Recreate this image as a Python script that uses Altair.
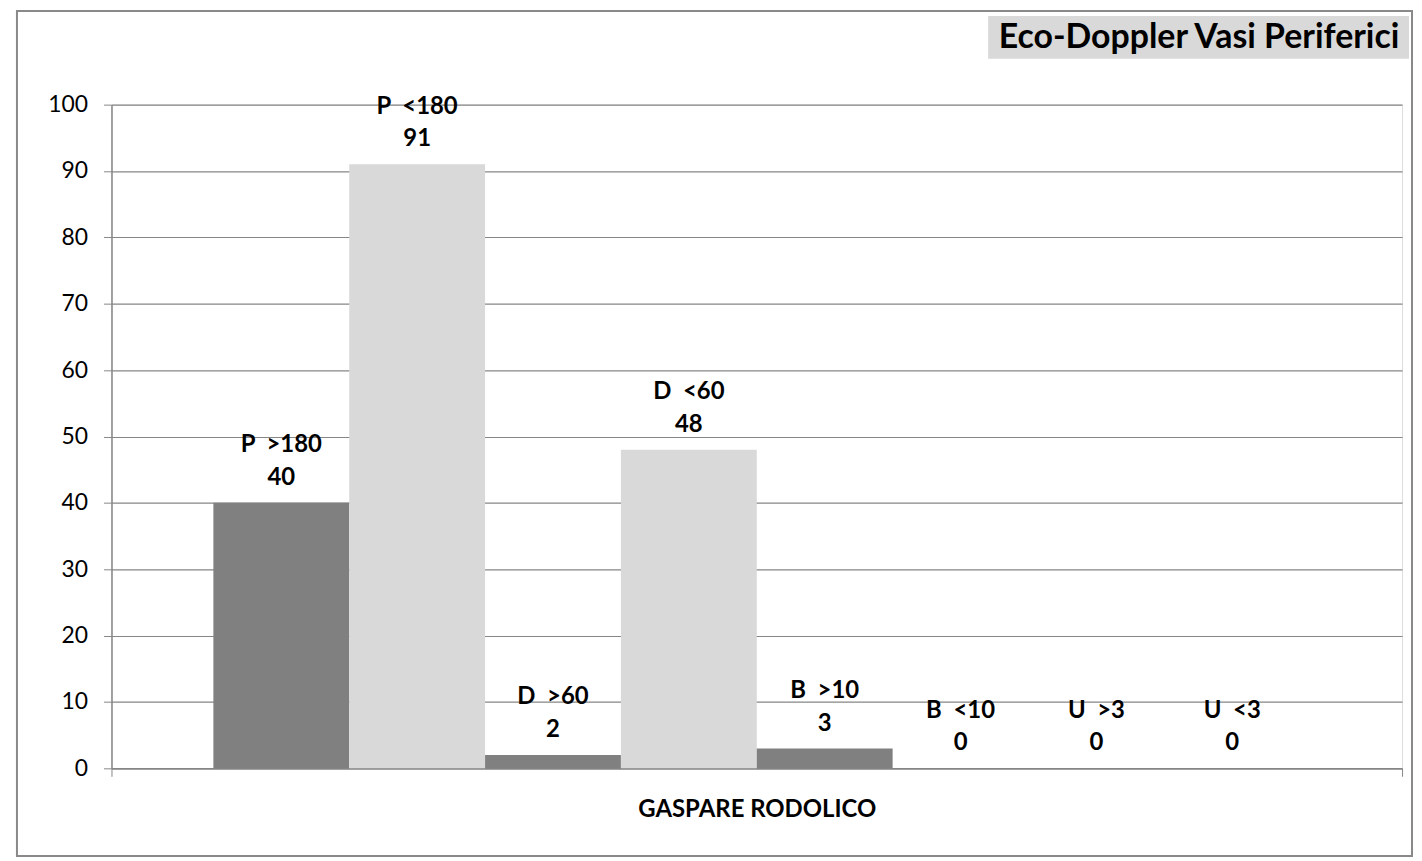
import altair as alt
import pandas as pd

group = "GASPARE RODOLICO"
series = ["P\u00a0\u00a0>180", "P\u00a0\u00a0<180", "D\u00a0\u00a0>60", "D\u00a0\u00a0<60",
          "B\u00a0\u00a0>10", "B\u00a0\u00a0<10", "U\u00a0\u00a0>3", "U\u00a0\u00a0<3"]
values = [40, 91, 2, 48, 3, 0, 0, 0]
shades = ["dark", "light", "dark", "light", "dark", "light", "dark", "light"]
y_ticks = list(range(0, 101, 10))
title_text = "Eco-Doppler Vasi Periferici"

df = pd.DataFrame({"group": [group] * len(series), "series": series,
                   "value": values, "shade": shades})

FONT = "Lato"
W, H = 1297, 667

x_enc = alt.X("group:N", title=None,
              scale=alt.Scale(paddingInner=0, paddingOuter=0),
              axis=alt.Axis(tickBand="extent", labelAngle=0, labelFont=FONT,
                            labelFontSize=24, labelFontWeight="bold", labelColor="black",
                            labelLimit=0, labelPadding=21, tickSize=8, tickColor="#868686",
                            domainColor="#868686", domainWidth=1.5))
xo_enc = alt.XOffset("series:N", sort=series,
                     scale=alt.Scale(paddingInner=0, paddingOuter=0.75))
y_enc = alt.Y("value:Q", title=None,
              scale=alt.Scale(domain=[0, 100], nice=False),
              axis=alt.Axis(values=y_ticks, labelFont=FONT, labelFontSize=23,
                            labelColor="black", labelPadding=16, tickSize=8,
                            tickColor="#868686", domainColor="#868686", domainWidth=1.5,
                            gridColor="#868686", gridWidth=1.2))

base = alt.Chart(df)

bars = base.mark_bar().encode(
    x=x_enc, xOffset=xo_enc, y=y_enc,
    color=alt.Color("shade:N", scale=alt.Scale(domain=["dark", "light"],
                                               range=["#808080", "#d9d9d9"]), legend=None),
)

name_lbl = base.mark_text(font=FONT, fontSize=24, fontWeight="bold", color="black",
                          baseline="middle", dy=-58).encode(
    x=alt.X("group:N"), xOffset=alt.XOffset("series:N", sort=series), y="value:Q",
    text="series:N")
val_lbl = base.mark_text(font=FONT, fontSize=24, fontWeight="bold", color="black",
                         baseline="middle", dy=-25).encode(
    x=alt.X("group:N"), xOffset=alt.XOffset("series:N", sort=series), y="value:Q",
    text="value:Q")

border = alt.Chart(pd.DataFrame({"a": [0]})).mark_rect(
    fill=None, stroke="#898989", strokeWidth=2).encode(
    x=alt.value(-95), x2=alt.value(1307), y=alt.value(-94), y2=alt.value(755))

title_box = alt.Chart(pd.DataFrame({"a": [0]})).mark_rect(fill="#d9d9d9").encode(
    x=alt.value(881), x2=alt.value(1304), y=alt.value(-89), y2=alt.value(-46))
title_txt = alt.Chart(pd.DataFrame({"a": [0]})).mark_text(
    font=FONT, fontSize=34, fontWeight="bold", color="black",
    align="center", baseline="middle").encode(
    x=alt.value(1093), y=alt.value(-67), text=alt.value(title_text))

chart = alt.layer(border, bars, name_lbl, val_lbl, title_box, title_txt).properties(
    width=W, height=H,
    padding={"left": 104, "top": 95, "right": 12, "bottom": 90},
    autosize=alt.AutoSizeParams(type="none"),
).configure_view(stroke=None).configure(background="white")

chart.save("out.html", embed_options={"renderer": "svg", "actions": False})
